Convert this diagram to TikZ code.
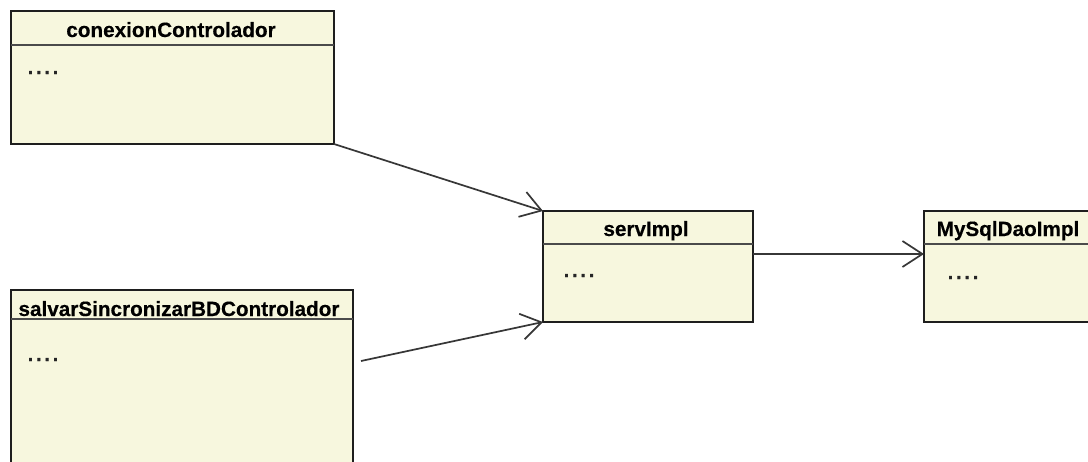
\documentclass[tikz,border=0pt]{standalone}
\usepackage{fontspec}
\setmainfont{Liberation Sans}
\usetikzlibrary{arrows.meta}
\definecolor{classfill}{RGB}{247,247,222}
\definecolor{edgecol}{RGB}{30,30,30}
\definecolor{arrowcol}{RGB}{55,55,55}
\newfontfamily\hdrfont[FakeBold=0.4]{Liberation Sans Bold}
\newfontfamily\dotfont[LetterSpace=14,FakeBold=0.5]{Liberation Sans Bold}
\begin{document}
\begin{tikzpicture}[x=1pt,y=-1pt,
  classbox/.style={draw=edgecol, line width=1.6pt, fill=classfill, rectangle, anchor=north west, inner sep=0pt, outer sep=0pt},
  hdrtext/.style={anchor=base, inner sep=0pt, font=\hdrfont\fontsize{20.7}{24}\selectfont, text=black},
  dottext/.style={anchor=base west, inner sep=0pt, font=\dotfont\fontsize{20}{24}\selectfont, text=black!85},
  sepline/.style={draw=edgecol!80, line width=1.8pt},
  assoc/.style={draw=arrowcol, line width=1.7pt, -{Straight Barb[length=20pt,width=26pt,line width=1.7pt]}}
]
\useasboundingbox (0,0) rectangle (1088,461);
\fill[white] (0,0) rectangle (1088,461);
\begin{scope}
\clip (0,0) rectangle (1088,461);
% class boxes
\node[classbox, minimum width=323pt, minimum height=133pt] (A) at (11,11) {};
\node[classbox, minimum width=342pt, minimum height=200pt] (B) at (11,290) {};
\node[classbox, minimum width=210pt, minimum height=111pt] (C) at (543,211) {};
\node[classbox, minimum width=200pt, minimum height=111pt] (D) at (924,211) {};
% header separators
\draw[sepline] (11,45) -- (334,45);
\draw[sepline] (11,319) -- (353,319);
\draw[sepline] (543,244) -- (753,244);
\draw[sepline] (924,244) -- (1100,244);
% header texts
\node[hdrtext] (Atitle) at (171,37) {conexionControlador};
\node[hdrtext] (Btitle) at (179,316) {salvarSincronizarBDControlador};
\node[hdrtext] (Ctitle) at (646,236) {servImpl};
\node[hdrtext] (Dtitle) at (1008,236) {MySqlDaoImpl};
% member placeholders
\node[dottext] (Adots) at (27.5,74) {....};
\node[dottext] (Bdots) at (27.5,361) {....};
\node[dottext] (Cdots) at (563.5,277) {....};
\node[dottext] (Ddots) at (947.5,279) {....};
% connectors
\coordinate (Bstart) at (361,361);
\coordinate (Cin2) at (543,322);
\coordinate (Cout) at (753,254);
\coordinate (Din) at (924,254);
\draw[assoc] (A.south east) -- (C.north west);
\draw[assoc] (Bstart) -- (Cin2);
\draw[assoc] (Cout) -- (Din);
\end{scope}
\end{tikzpicture}
\end{document}
